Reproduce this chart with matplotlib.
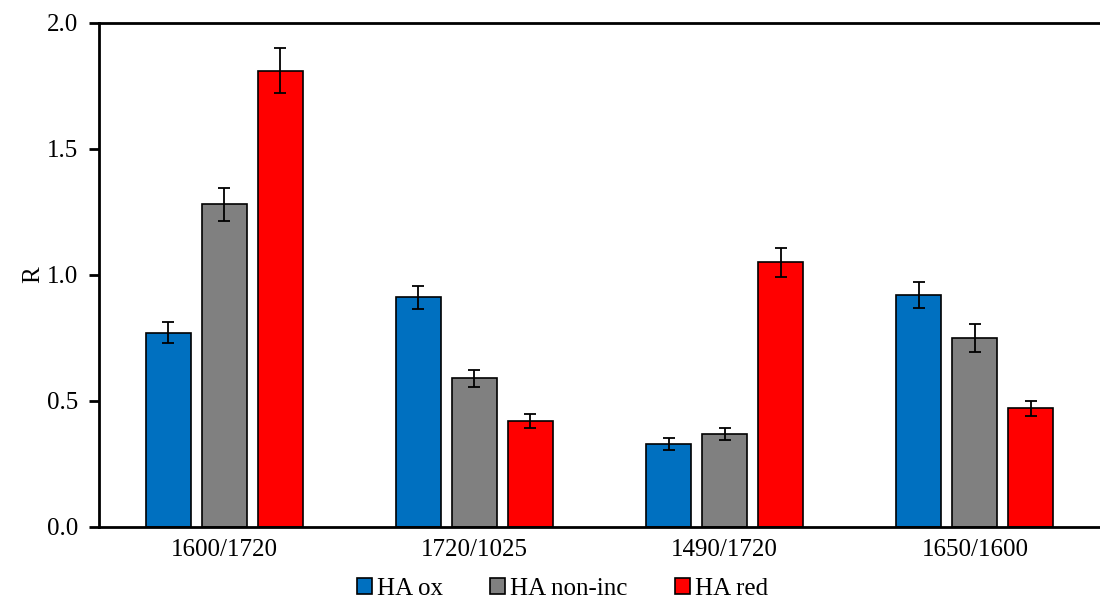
import matplotlib
matplotlib.use("Agg")
import matplotlib.pyplot as plt
import numpy as np

# Data
categories = ["1600/1720", "1720/1025", "1490/1720", "1650/1600"]
series = ["HA ox", "HA non-inc", "HA red"]
haOx = [0.77, 0.91, 0.33, 0.92]
haNonInc = [1.28, 0.59, 0.37, 0.75]
haRed = [1.81, 0.42, 1.05, 0.47]
haOxErr = [0.042, 0.047, 0.024, 0.052]
haNonIncErr = [0.065, 0.034, 0.024, 0.055]
haRedErr = [0.09, 0.027, 0.057, 0.03]
colors = ["#0070C0", "#808080", "#FF0000"]


def main():
    plt.rcParams["font.family"] = ["Liberation Serif", "DejaVu Serif"]
    fig = plt.figure(figsize=(11, 5.98), dpi=100)
    ax = fig.add_axes([0.09, 0.119, 0.91, 0.843])

    x = np.arange(len(categories))
    width = 0.18
    step = 0.224
    values = [haOx, haNonInc, haRed]
    errors = [haOxErr, haNonIncErr, haRedErr]

    for i in range(len(series)):
        ax.bar(x + (i - 1) * step, values[i], width, color=colors[i],
               edgecolor="black", linewidth=1.2, label=series[i],
               yerr=errors[i], capsize=4,
               error_kw={"elinewidth": 1.3, "capthick": 1.3, "ecolor": "black"})

    ax.set_xlim(-0.5, 3.5)
    ax.set_ylim(0, 2.0)
    ax.set_yticks([0.0, 0.5, 1.0, 1.5, 2.0])
    ax.set_yticklabels(["0.0", "0.5", "1.0", "1.5", "2.0"])
    ax.set_xticks(x)
    ax.set_xticklabels(categories)
    ax.tick_params(axis="y", direction="out", length=7, width=2, labelsize=18, pad=8)
    ax.tick_params(axis="x", length=0, labelsize=18, pad=9)
    ax.set_ylabel("R", fontsize=18, labelpad=2)

    ax.spines["right"].set_visible(False)
    for side in ["left", "bottom", "top"]:
        ax.spines[side].set_linewidth(2)

    ax.legend(loc="center", bbox_to_anchor=(0.5 - 0.09 / 2 + 0.008, -0.123), ncol=3,
              frameon=False, fontsize=18, handlelength=0.6, handleheight=0.6,
              handletextpad=0.2, columnspacing=1.9, borderpad=0.0)

    fig.savefig("out.png", dpi=100)


if __name__ == "__main__":
    main()
